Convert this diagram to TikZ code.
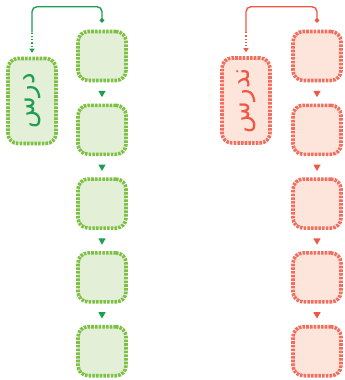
\documentclass[tikz,border=0pt]{standalone}
\usepackage{fontspec}
\newfontfamily\arabicfont[Script=Arabic]{DejaVu Sans}
\TeXXeTstate=1
\usetikzlibrary{arrows.meta,shapes.geometric}
\definecolor{gfill}{HTML}{E4EFD8}
\definecolor{gborder}{HTML}{7CC143}
\definecolor{gline}{HTML}{1E9E4F}
\definecolor{rfill}{HTML}{FDE5DC}
\definecolor{rborder}{HTML}{F26F5F}
\definecolor{rline}{HTML}{EE5844}
\tikzset{
  boxbase/.style={draw, line width=3.6pt, dash pattern=on 2.6pt off 1.1pt,
    rounded corners=10pt, inner sep=0pt, minimum width=48pt},
  smallbox/.style={boxbase, minimum height=49pt},
  tallbox/.style={boxbase, minimum height=85pt},
  gbox/.style={fill=gfill, draw=gborder},
  rbox/.style={fill=rfill, draw=rborder},
  tri/.style={regular polygon, regular polygon sides=3, shape border rotate=180,
    inner sep=0pt, minimum size=8.5pt, draw=none},
  conn/.style={line width=1.4pt, rounded corners=5pt},
  dotend/.style={line width=1.6pt, dash pattern=on 1.2pt off 2pt},
  lbl/.style={rotate=90, font=\arabicfont\fontsize{26}{26}\selectfont}
}
\begin{document}
\begin{tikzpicture}[x=1pt,y=1pt]
\useasboundingbox (0,0) rectangle (345,-380);
% green column
\node[tallbox,gbox] (gt) at (32,-101) {};
\node[lbl,text=gline] (gtxt) at (gt) {\beginR درس\endR};
\foreach \i in {1,...,5}{
  \node[smallbox,gbox] (g\i) at (102,{-56-73.8*(\i-1)}) {};
}
\foreach \a/\b in {1/2,2/3,3/4,4/5}{
  \path (g\a.south) -- node[tri,fill=gline] (ga\a) {} (g\b.north);
}
\draw[conn,gline,{Circle[length=4.5pt]}-] ([yshift=7pt]g1.north) -- ++(0,16) -| ([yshift=24pt]gt.north) coordinate (gd);
\draw[dotend,gline,-{Triangle[length=4pt,width=5pt]}] (gd) -- ([yshift=4pt]gt.north);
% red column
\node[tallbox,rbox] (rt) at (246,-100.5) {};
\node[lbl,text=rline] (rtxt) at (rt) {\beginR ندرس\endR};
\foreach \i in {1,...,5}{
  \node[smallbox,rbox] (r\i) at (317,{-56-73.8*(\i-1)}) {};
}
\foreach \a/\b in {1/2,2/3,3/4,4/5}{
  \path (r\a.south) -- node[tri,fill=rline] (ra\a) {} (r\b.north);
}
\draw[conn,rline,{Circle[length=4.5pt]}-] ([yshift=7pt]r1.north) -- ++(0,16) -| ([yshift=24pt]rt.north) coordinate (rd);
\draw[dotend,rline,-{Triangle[length=4pt,width=5pt]}] (rd) -- ([yshift=4pt]rt.north);
\end{tikzpicture}
\end{document}
